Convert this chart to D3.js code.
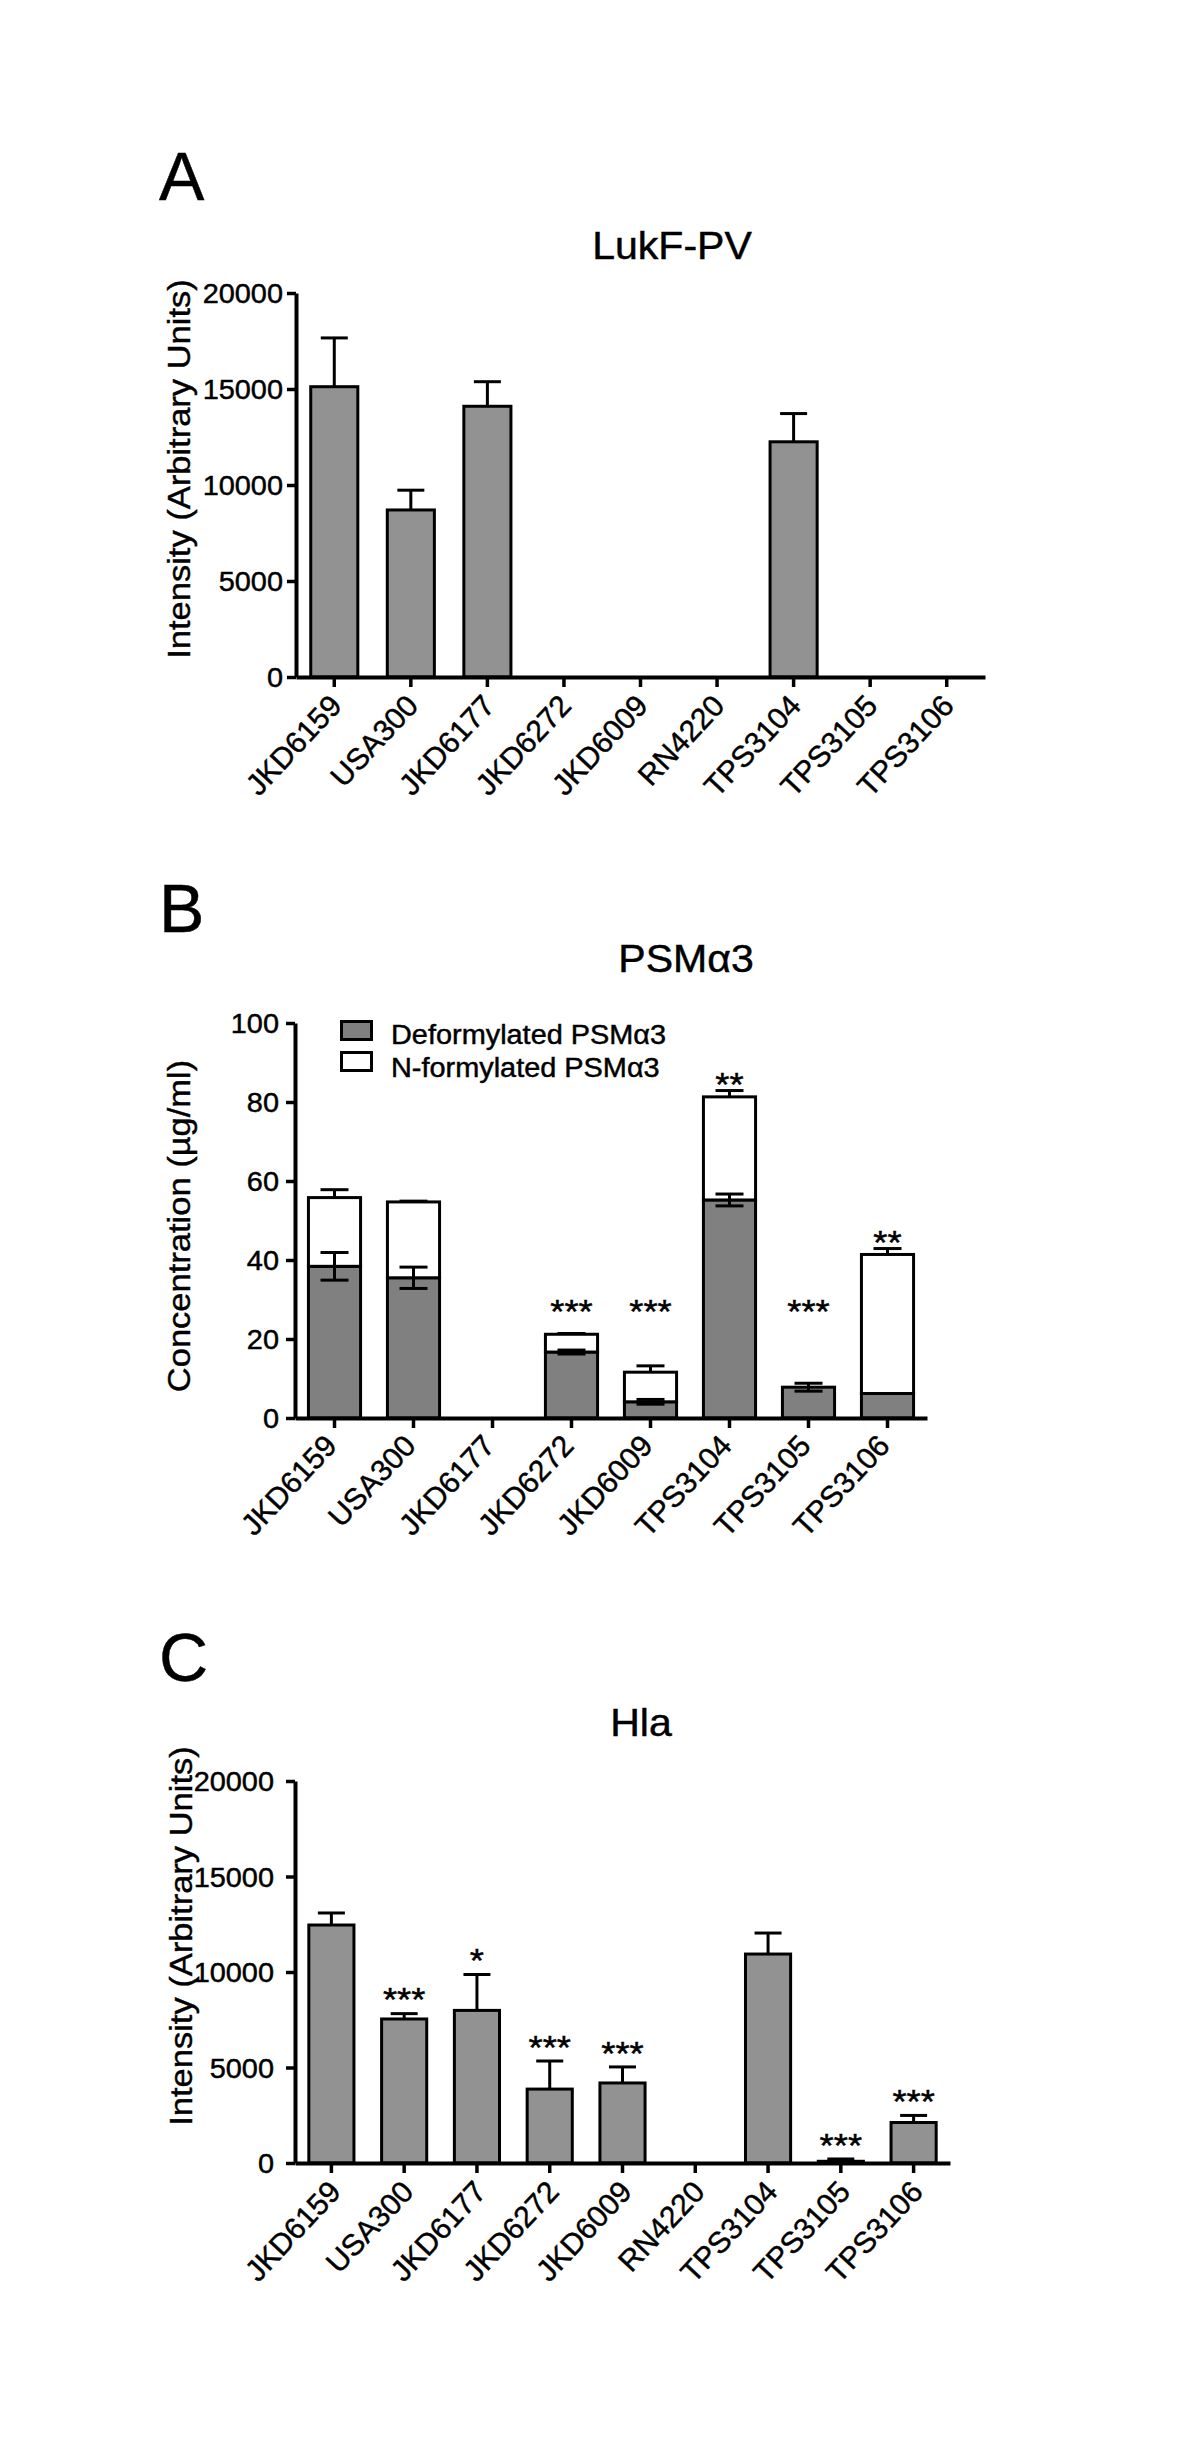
<!DOCTYPE html>
<html><head><meta charset="utf-8">
<script src="https://cdn.jsdelivr.net/npm/d3@7"></script>
<style>
body{margin:0;background:#fff}
svg text{font-family:"Liberation Sans",Arial,Helvetica,sans-serif;fill:#000;stroke:#000;stroke-width:0.45px}
</style>
</head><body><svg id="c" width="1200" height="2462"></svg>
<script>
// ---------- DATA ----------
const strainsA = ["JKD6159","USA300","JKD6177","JKD6272","JKD6009","RN4220","TPS3104","TPS3105","TPS3106"];
const lukfValues = [15120, 8700, 14100, 0, 0, 0, 12250, 0, 0];
const lukfErrors = [2540, 1030, 1280, 0, 0, 0, 1470, 0, 0];
const yTicksA = [0, 5000, 10000, 15000, 20000];

const strainsB = ["JKD6159","USA300","JKD6177","JKD6272","JKD6009","TPS3104","TPS3105","TPS3106"];
const psmDeform = [38.4, 35.5, 0, 16.7, 4.1, 55.2, 7.8, 6.2];
const psmDeformErr = [3.5, 2.7, 0, 0.5, 0.6, 1.5, 1.0, 0];
const psmNform = [17.4, 19.2, 0, 4.5, 7.5, 26.1, 0, 35.2];
const psmTotalErr = [2.0, 0.2, 0, 0.2, 1.6, 1.6, 0, 1.5];
const psmStars = ["", "", "", "***", "***", "**", "***", "**"];
const yTicksB = [0, 20, 40, 60, 80, 100];
const legendB = ["Deformylated PSMα3", "N-formylated PSMα3"];

const strainsC = ["JKD6159","USA300","JKD6177","JKD6272","JKD6009","RN4220","TPS3104","TPS3105","TPS3106"];
const hlaValues = [12460, 7540, 7990, 3870, 4190, 0, 10940, 90, 2120];
const hlaErrors = [630, 280, 1880, 1470, 840, 0, 1100, 120, 370];
const hlaStars = ["", "***", "*", "***", "***", "", "", "***", "***"];
const yTicksC = [0, 5000, 10000, 15000, 20000];

const panelLetters = ["A", "B", "C"];
const titles = ["LukF-PV", "PSMα3", "Hla"];
const yLabels = ["Intensity (Arbitrary Units)", "Concentration (µg/ml)", "Intensity (Arbitrary Units)"];

// ---------- DRAW ----------
const svg = d3.select("#c");
const GREY = "#929292", DARK = "#808080";

function makeAxes(g, x, y, o) {
  const ya = g.append("g").attr("transform", `translate(${o.left},0)`)
    .call(d3.axisLeft(y).tickValues(o.ticks).tickSize(9).tickSizeOuter(0).tickFormat(d3.format("d")));
  const xa = g.append("g").attr("transform", `translate(0,${o.y0})`)
    .call(d3.axisBottom(x).tickSize(10).tickSizeOuter(0));
  [ya, xa].forEach(a => {
    a.attr("font-family", null).attr("font-size", null);
    a.select(".domain").attr("stroke", "#000").attr("stroke-width", 4);
    a.selectAll(".tick line").attr("stroke", "#000").attr("stroke-width", 3.5);
  });
  ya.selectAll(".tick text").attr("x", 0).attr("dy", "0.36em").attr("font-size", 27)
    .attr("transform", `translate(${-o.tpad},0) scale(1.07,1)`);
  xa.selectAll(".tick text").attr("x", 0).attr("y", 0).attr("dy", null)
    .attr("text-anchor", "end").attr("font-size", 30)
    .attr("transform", `translate(${o.lx},${o.ly}) rotate(-47)`);
}

function headers(g, o, i) {
  g.append("text").attr("x", 159).attr("y", o.letterY).attr("font-size", 68).text(panelLetters[i]);
  g.append("text").attr("transform", `translate(${o.titleX},${o.titleY}) scale(1.08,1)`)
    .attr("text-anchor", "middle").attr("font-size", 38).text(titles[i]);
  g.append("text").attr("transform", `translate(${o.ylabX},${o.ylabY}) scale(0.9,1) rotate(-90)`)
    .attr("text-anchor", "middle").attr("font-size", 34.5).text(yLabels[i]);
}

function errBar(g, cx, yBase, yTop, cap, both, yLow) {
  g.append("line").attr("x1", cx).attr("x2", cx).attr("y1", both ? yLow : yBase).attr("y2", yTop)
    .attr("stroke", "#000").attr("stroke-width", 3);
  g.append("line").attr("x1", cx - cap / 2).attr("x2", cx + cap / 2).attr("y1", yTop).attr("y2", yTop)
    .attr("stroke", "#000").attr("stroke-width", 3);
  if (both) g.append("line").attr("x1", cx - cap / 2).attr("x2", cx + cap / 2).attr("y1", yLow).attr("y2", yLow)
    .attr("stroke", "#000").attr("stroke-width", 3);
}

function starText(g, cx, center, s) {
  const fs = 34;
  g.append("text").attr("transform", `translate(${cx},${center + 0.58 * fs}) scale(1.07,1)`)
    .attr("text-anchor", "middle").attr("font-size", fs).text(s);
}

function simplePanel(i, o, cats, vals, errs, stars) {
  const g = svg.append("g");
  const x = d3.scaleBand().domain(cats).range([o.left, o.right]).paddingInner(o.pad).paddingOuter(o.pad / 2);
  const y = d3.scaleLinear().domain([0, o.yMax]).range([o.y0, o.yTop]);
  headers(g, o, i);
  cats.forEach((c, k) => {
    if (vals[k] <= 0) return;
    g.append("rect").attr("x", x(c)).attr("width", x.bandwidth())
      .attr("y", y(vals[k])).attr("height", y(0) - y(vals[k]))
      .attr("fill", GREY).attr("stroke", "#000").attr("stroke-width", 3);
    const cx = x(c) + x.bandwidth() / 2;
    if (errs[k] > 0) errBar(g, cx, y(vals[k]), y(vals[k] + errs[k]), 27, false);
    if (stars && stars[k]) starText(g, cx, y(vals[k] + errs[k]) - 22, stars[k]);
  });
  makeAxes(g, x, y, o);
}

function stackedPanel(i, o) {
  const g = svg.append("g");
  const cats = strainsB;
  const x = d3.scaleBand().domain(cats).range([o.left, o.right]).paddingInner(o.pad).paddingOuter(o.pad / 2);
  const y = d3.scaleLinear().domain([0, o.yMax]).range([o.y0, o.yTop]);
  headers(g, o, i);
  cats.forEach((c, k) => {
    const d = psmDeform[k], n = psmNform[k];
    if (d > 0) g.append("rect").attr("x", x(c)).attr("width", x.bandwidth())
      .attr("y", y(d)).attr("height", y(0) - y(d))
      .attr("fill", DARK).attr("stroke", "#000").attr("stroke-width", 3);
    if (n > 0) g.append("rect").attr("x", x(c)).attr("width", x.bandwidth())
      .attr("y", y(d + n)).attr("height", y(d) - y(d + n))
      .attr("fill", "#fff").attr("stroke", "#000").attr("stroke-width", 3);
  });
  cats.forEach((c, k) => {
    const d = psmDeform[k], n = psmNform[k], cx = x(c) + x.bandwidth() / 2;
    if (psmDeformErr[k] > 0) errBar(g, cx, y(d), y(d + psmDeformErr[k]), 28, true, y(d - psmDeformErr[k]));
    if (psmTotalErr[k] > 0) errBar(g, cx, y(d + n), y(d + n + psmTotalErr[k]), 28, false);
    if (psmStars[k]) {
      const level = Math.max(d + n + psmTotalErr[k] + 3.6, 29);
      starText(g, cx, y(level), psmStars[k]);
    }
  });
  // legend
  const fills = [DARK, "#fff"];
  legendB.forEach((t, k) => {
    g.append("rect").attr("x", 341.5).attr("y", 1021.5 + k * 31).attr("width", 30).attr("height", 18)
      .attr("fill", fills[k]).attr("stroke", "#000").attr("stroke-width", 3);
    g.append("text").attr("transform", `translate(391,${1044 + k * 33}) scale(1.07,1)`)
      .attr("font-size", 27).text(t);
  });
  makeAxes(g, x, y, o);
}

simplePanel(0, {left: 296, right: 985, y0: 677, yTop: 293, yMax: 20000, ticks: yTicksA, pad: 0.385,
  tpad: 13, lx: 9, ly: 30, letterY: 200, titleX: 672, titleY: 259, ylabX: 190, ylabY: 469},
  strainsA, lukfValues, lukfErrors, null);

stackedPanel(1, {left: 295, right: 927, y0: 1418, yTop: 1023, yMax: 100, ticks: yTicksB, pad: 0.34,
  tpad: 16, lx: 4, ly: 29, letterY: 932, titleX: 686, titleY: 972, ylabX: 190, ylabY: 1226});

simplePanel(2, {left: 295, right: 950, y0: 2163, yTop: 1781, yMax: 20000, ticks: yTicksC, pad: 0.38,
  tpad: 21, lx: 11, ly: 30, letterY: 1681, titleX: 641, titleY: 1736, ylabX: 192, ylabY: 1936},
  strainsC, hlaValues, hlaErrors, hlaStars);
</script>
</body></html>
